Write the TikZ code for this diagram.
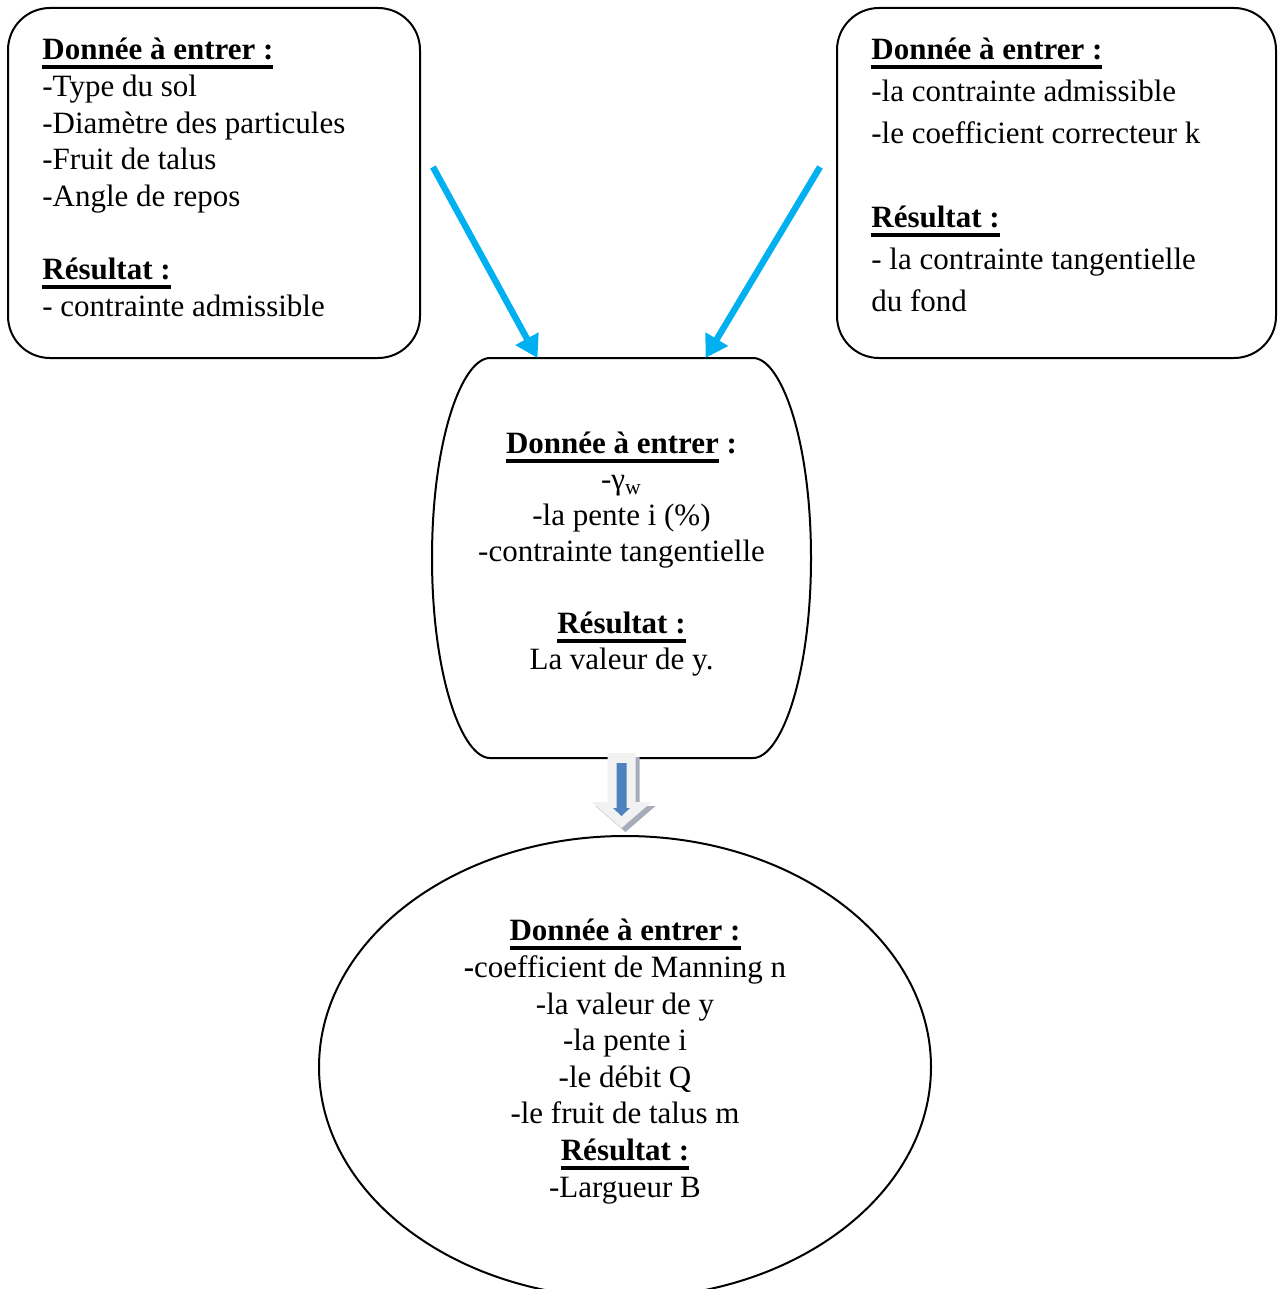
\documentclass[tikz,border=0pt]{standalone}
\usepackage{fontspec}
\setmainfont{Liberation Serif}
\usetikzlibrary{positioning, arrows.meta, shapes.geometric}
\definecolor{ArrowCyan}{RGB}{0, 176, 240}
\definecolor{BlockBlue}{RGB}{79, 129, 189}
\definecolor{BlockShade}{RGB}{165, 172, 186}
\definecolor{BlockFill}{RGB}{242, 242, 242}
\newcommand{\ulb}[1]{\setbox0\hbox{\bfseries #1}\rlap{\rule[-4.5pt]{\wd0}{2pt}}\box0\relax}
\tikzset{
  frame/.style={draw=black, line width=1pt},
  infobox/.style={rectangle, frame, rounded corners=21pt, inner sep=0pt, outer sep=0pt},
  barrel/.style={rectangle, inner sep=0pt, outer sep=0pt, minimum width=131.5pt, minimum height=200pt},
  result/.style={ellipse, frame, inner sep=0pt, outer sep=0pt, minimum width=306pt, minimum height=231pt},
  txt/.style={inner sep=0pt, font=\fontsize{15.5}{18.3}\selectfont},
  feed/.style={-{Triangle[length=11pt, width=12.5pt]}, line width=3.2pt, ArrowCyan},
}
\begin{document}
\begin{tikzpicture}[x=0.5pt, y=-0.5pt]
  \useasboundingbox (0,0) rectangle (1279,1289);

  % les deux cadres du haut
  \node[infobox, minimum width=206pt, minimum height=175pt, anchor=north west] (sol) at (8,8) {};
  \node[infobox, minimum width=219.5pt, minimum height=175pt, anchor=north west] (cor) at (837,8) {};
  \node[txt, align=left, anchor=north west] (solTxt) at ([xshift=17pt, yshift=-15pt]sol.north west) {%
    \ulb{Donnée à entrer :}\\
    -Type du sol\\
    -Diamètre des particules\\
    -Fruit de talus\\
    -Angle de repos\\[18.3pt]
    \ulb{Résultat :}\\
    - contrainte admissible};
  \node[txt, font=\fontsize{15.5}{21}\selectfont, align=left, anchor=north west] (corTxt)
    at ([xshift=17pt, yshift=-15pt]cor.north west) {%
    \ulb{Donnée à entrer :}\\
    -la contrainte admissible\\
    -le coefficient correcteur k\\[21pt]
    \ulb{Résultat :}\\
    - la contrainte tangentielle\\
    du fond};

  % bloc central
  \node[barrel] (ymid) at (621.5,558) {};
  \draw[frame] (ymid.north west) -- (ymid.north east)
    .. controls +(28,0) and +(0,-118) .. ([xshift=29pt]ymid.east)
    .. controls +(0,118) and +(28,0) .. (ymid.south east)
    -- (ymid.south west)
    .. controls +(-28,0) and +(0,118) .. ([xshift=-29pt]ymid.west)
    .. controls +(0,-118) and +(-28,0) .. (ymid.north west) -- cycle;
  \node[txt, font=\fontsize{15.5}{18}\selectfont, align=center, anchor=north] (ymidTxt)
    at ([yshift=-37pt]ymid.north) {%
    \ulb{Donnée à entrer} \textbf{:}\\
    -γ\textsubscript{w}\\
    -la pente i (\%)\\
    -contrainte tangentielle\\[18pt]
    \ulb{Résultat :}\\
    La valeur de y.};

  % ellipse du bas
  \node[result] (ell) at (625,1067) {};
  \node[txt, align=center, anchor=north] (ellTxt) at ([yshift=-41.5pt]ell.north) {%
    \ulb{Donnée à entrer :}\\
    \textbf{-}coefficient de Manning n\\
    -la valeur de y\\
    -la pente i\\
    -le débit Q\\
    -le fruit de talus m\\
    \ulb{Résultat :}\\
    -Largueur B};

  % fleches
  \coordinate (startL) at (433,167);
  \coordinate (startR) at (820,167);
  \draw[feed] (startL) -- ([xshift=-42pt]ymid.north);
  \draw[feed] (startR) -- ([xshift=42pt]ymid.north);

  \begin{scope}[shift={(ymid.south)}]
    \fill[BlockShade] (-10,-1) -- (18,-1) -- (18,48) -- (34,48) -- (4,74) -- (-26,48) -- (-10,48) -- cycle;
    \fill[BlockFill] (-14,-5) -- (14,-5) -- (14,44) -- (30,44) -- (0,70) -- (-30,44) -- (-14,44) -- cycle;
    \fill[BlockBlue] (-5,5) -- (5,5) -- (5,50) -- (8.5,50) -- (0,58) -- (-8.5,50) -- (-5,50) -- cycle;
  \end{scope}
\end{tikzpicture}
\end{document}
